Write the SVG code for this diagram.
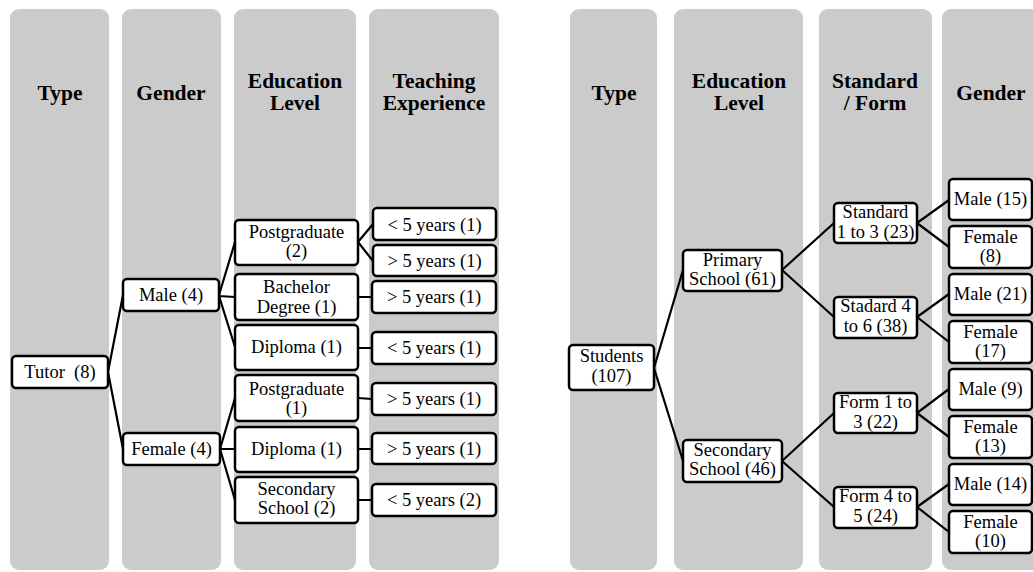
<svg xmlns="http://www.w3.org/2000/svg" width="1033" height="572" viewBox="0 0 1033 572">
<style>
.col{fill:#cbcbcb;}
.hd{font-family:"Liberation Serif","Times New Roman",serif;font-weight:bold;font-size:21.5px;text-anchor:middle;fill:#000;}
.bx{fill:#fff;stroke:#000;stroke-width:2.5;}
.t{font-family:"Liberation Serif","Times New Roman",serif;font-size:18.5px;text-anchor:middle;fill:#000;}
.ln{stroke:#000;stroke-width:2.2;fill:none;}
</style>
<rect width="1033" height="572" fill="#fff"/>
<g id="columns">
<rect class="col" x="10" y="9" width="99" height="561" rx="9"/>
<rect class="col" x="122" y="9" width="99" height="561" rx="9"/>
<rect class="col" x="234" y="9" width="122" height="561" rx="9"/>
<rect class="col" x="369" y="9" width="130" height="561" rx="9"/>
<rect class="col" x="570" y="9" width="87" height="561" rx="9"/>
<rect class="col" x="674" y="9" width="129" height="561" rx="9"/>
<rect class="col" x="819" y="9" width="113" height="561" rx="9"/>
<rect class="col" x="942" y="9" width="98" height="561" rx="9"/>
</g>
<g id="headers">
<text class="hd" x="60" y="100">Type</text>
<text class="hd" x="171" y="100">Gender</text>
<text class="hd" x="295" y="88">Education</text>
<text class="hd" x="295" y="110">Level</text>
<text class="hd" x="434" y="88">Teaching</text>
<text class="hd" x="434" y="110">Experience</text>
<text class="hd" x="614" y="100">Type</text>
<text class="hd" x="739" y="88">Education</text>
<text class="hd" x="739" y="110">Level</text>
<text class="hd" x="875" y="88">Standard</text>
<text class="hd" x="875" y="110">/ Form</text>
<text class="hd" x="991" y="100">Gender</text>
</g>
<g id="connectors">
<path class="ln" d="M108 372 L123 295 M108 372 L123 449"/>
<path class="ln" d="M219 295 L235 242 M219 296 L235 297 M219 296 L235 347"/>
<path class="ln" d="M220 449 L235 398 M220 449 L235 449 M220 449 L235 500"/>
<path class="ln" d="M358 242 L373 224 M358 242 L373 261"/>
<path class="ln" d="M358 297 L372 297 M358 348 L372 348 M358 398 L372 399 M358 449 L372 449 M358 500 L372 500"/>
<path class="ln" d="M654 368 L683 270 M654 368 L683 461"/>
<path class="ln" d="M782 270 L834 223 M782 270 L834 317 M782 461 L834 413 M782 461 L834 507"/>
<path class="ln" d="M917 223 L949 200 M917 223 L949 247 M917 317 L949 294 M917 317 L949 342 M917 413 L949 389 M917 413 L949 437 M917 507 L949 484 M917 507 L949 532"/>
</g>
<g id="n-tutor"><rect class="bx" x="12" y="356" width="96" height="32" rx="4"/><text class="t" x="60" y="378" xml:space="preserve">Tutor  (8)</text></g>
<g id="n-male4"><rect class="bx" x="123" y="279" width="96" height="32" rx="4"/><text class="t" x="171" y="301">Male (4)</text></g>
<g id="n-female4"><rect class="bx" x="123" y="433" width="97" height="32" rx="4"/><text class="t" x="171.5" y="455">Female (4)</text></g>
<g id="n-pg2"><rect class="bx" x="235" y="220" width="123" height="45" rx="4"/><text class="t" x="296.5" y="238">Postgraduate</text><text class="t" x="296.5" y="257">(2)</text></g>
<g id="n-bach"><rect class="bx" x="235" y="274" width="123" height="46" rx="4"/><text class="t" x="296.5" y="293">Bachelor</text><text class="t" x="296.5" y="313">Degree (1)</text></g>
<g id="n-dip1"><rect class="bx" x="235" y="325" width="123" height="45" rx="4"/><text class="t" x="296.5" y="353">Diploma (1)</text></g>
<g id="n-pg1"><rect class="bx" x="235" y="375" width="123" height="46" rx="4"/><text class="t" x="296.5" y="395">Postgraduate</text><text class="t" x="296.5" y="414">(1)</text></g>
<g id="n-dip2"><rect class="bx" x="235" y="427" width="123" height="45" rx="4"/><text class="t" x="296.5" y="455">Diploma (1)</text></g>
<g id="n-sec2"><rect class="bx" x="235" y="477" width="123" height="46" rx="4"/><text class="t" x="296.5" y="495">Secondary</text><text class="t" x="296.5" y="514">School (2)</text></g>
<g id="n-te1"><rect class="bx" x="373" y="208" width="123" height="32" rx="4"/><text class="t" x="434.5" y="231">&lt; 5 years (1)</text></g>
<g id="n-te2"><rect class="bx" x="373" y="245" width="123" height="31" rx="4"/><text class="t" x="434.5" y="267">&gt; 5 years (1)</text></g>
<g id="n-te3"><rect class="bx" x="372" y="281" width="124" height="32" rx="4"/><text class="t" x="434" y="303">&gt; 5 years (1)</text></g>
<g id="n-te4"><rect class="bx" x="372" y="332" width="124" height="32" rx="4"/><text class="t" x="434" y="354">&lt; 5 years (1)</text></g>
<g id="n-te5"><rect class="bx" x="372" y="383" width="124" height="32" rx="4"/><text class="t" x="434" y="405">&gt; 5 years (1)</text></g>
<g id="n-te6"><rect class="bx" x="372" y="433" width="124" height="31" rx="4"/><text class="t" x="434" y="455">&gt; 5 years (1)</text></g>
<g id="n-te7"><rect class="bx" x="372" y="484" width="124" height="32" rx="4"/><text class="t" x="434" y="506">&lt; 5 years (2)</text></g>
<g id="n-students"><rect class="bx" x="569" y="345" width="85" height="45" rx="4"/><text class="t" x="611.5" y="362">Students</text><text class="t" x="611.5" y="382">(107)</text></g>
<g id="n-primary"><rect class="bx" x="683" y="250" width="99" height="41" rx="4"/><text class="t" x="732.5" y="266">Primary</text><text class="t" x="732.5" y="285">School (61)</text></g>
<g id="n-secondary"><rect class="bx" x="683" y="440" width="99" height="42" rx="4"/><text class="t" x="732.5" y="456">Secondary</text><text class="t" x="732.5" y="475">School (46)</text></g>
<g id="n-std13"><rect class="bx" x="834" y="203" width="83" height="40" rx="4"/><text class="t" x="875.5" y="218">Standard</text><text class="t" x="875.5" y="238">1 to 3 (23)</text></g>
<g id="n-std46"><rect class="bx" x="834" y="297" width="83" height="41" rx="4"/><text class="t" x="875.5" y="312">Stadard 4</text><text class="t" x="875.5" y="332">to 6 (38)</text></g>
<g id="n-form13"><rect class="bx" x="834" y="393" width="83" height="40" rx="4"/><text class="t" x="875.5" y="408">Form 1 to</text><text class="t" x="875.5" y="428">3 (22)</text></g>
<g id="n-form45"><rect class="bx" x="834" y="487" width="83" height="41" rx="4"/><text class="t" x="875.5" y="502">Form 4 to</text><text class="t" x="875.5" y="522">5 (24)</text></g>
<g id="n-m15"><rect class="bx" x="949" y="179" width="83" height="41" rx="4"/><text class="t" x="990.5" y="205">Male (15)</text></g>
<g id="n-f8"><rect class="bx" x="949" y="226" width="83" height="42" rx="4"/><text class="t" x="990.5" y="243">Female</text><text class="t" x="990.5" y="262">(8)</text></g>
<g id="n-m21"><rect class="bx" x="949" y="274" width="83" height="41" rx="4"/><text class="t" x="990.5" y="300">Male (21)</text></g>
<g id="n-f17"><rect class="bx" x="949" y="321" width="83" height="42" rx="4"/><text class="t" x="990.5" y="338">Female</text><text class="t" x="990.5" y="357">(17)</text></g>
<g id="n-m9"><rect class="bx" x="949" y="369" width="83" height="41" rx="4"/><text class="t" x="990.5" y="395">Male (9)</text></g>
<g id="n-f13"><rect class="bx" x="949" y="416" width="83" height="42" rx="4"/><text class="t" x="990.5" y="433">Female</text><text class="t" x="990.5" y="452">(13)</text></g>
<g id="n-m14"><rect class="bx" x="949" y="464" width="83" height="41" rx="4"/><text class="t" x="990.5" y="490">Male (14)</text></g>
<g id="n-f10"><rect class="bx" x="949" y="511" width="83" height="42" rx="4"/><text class="t" x="990.5" y="528">Female</text><text class="t" x="990.5" y="547">(10)</text></g>
</svg>
